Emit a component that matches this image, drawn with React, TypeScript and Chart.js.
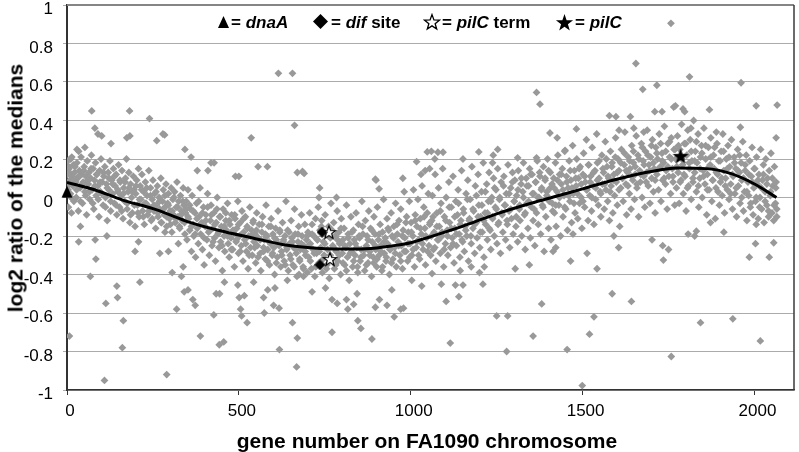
import React, { useEffect, useRef } from "react";
import { Chart, registerables } from "chart.js";

Chart.register(...registerables);

// ---------- DATA ----------
const xAxisMax = 2115;
const xTickValues = [0, 500, 1000, 1500, 2000];
const yTickStep = 0.2;

// trend line (polynomial fit)
const trendGenes = [0, 80, 160, 250, 300, 350, 440, 540, 630, 700, 800, 870, 950, 1000, 1055, 1150, 1250, 1350, 1420, 1500, 1600, 1700, 1775, 1860, 1930, 2000, 2064];
const trendValues = [0.078, 0.04, -0.012, -0.058, -0.09, -0.125, -0.17, -0.21, -0.245, -0.26, -0.268, -0.266, -0.25, -0.235, -0.205, -0.15, -0.085, -0.03, 0.005, 0.045, 0.095, 0.135, 0.153, 0.15, 0.125, 0.07, 0.0];

// special loci
const dnaAPoints: [number, number][] = [[0, 0.03]];
const difPoints: [number, number][] = [[742, -0.18], [736, -0.35]];
const pilCTermPoints: [number, number][] = [[762, -0.18], [765, -0.32]];
const pilCPoints: [number, number][] = [[1785, 0.215]];

// gene ratios, genes 0-350
const genes0to350: [number, number][] = [
  [72,0.45],[182,0.45],[240,0.41],[81,0.36],[90,0.33],[101,0.32],[174,0.31],[183,0.32],[261,0.295],[279,0.33],[284,0.325],[128,0.28],[343,0.25],[34,0.24],[52,0.26],[29,0.25],[14,0.21],[2,0.19],[5,0.16],
  [39,-0.15],[34,-0.23],[82,-0.22],[84,-0.32],[68,-0.41],[116,-0.2],[145,-0.46],[147,-0.52],[113,-0.55],[212,-0.44],[164,-0.64],[161,-0.78],[7,-0.72],[109,-0.95],[290,-0.92],[319,-0.58],[306,-0.39],[333,-0.41],[341,-0.49],[338,-0.36],[198,-0.28],[208,-0.23],[270,-0.29],[295,-0.28],[324,-0.24],[285,-0.18],
  [1,0.12],[3,0.04],[4,-0.05],[6,0.15],[8,0.09],[10,0.02],[11,0.2],[13,-0.08],[15,0.11],[17,0.06],[19,0.17],[20,-0.02],[22,0.13],[25,0.08],[27,0.0],[29,0.18],[31,0.1],[33,-0.07],[36,0.14],[38,0.05],[41,0.21],[43,0.12],[45,-0.03],[47,0.08],[50,0.16],[52,0.03],[55,0.11],[57,-0.09],[59,0.19],[62,0.07],[64,0.13],[66,-0.01],[69,0.1],[71,0.22],[73,0.04],[76,0.15],[78,-0.06],[80,0.09],[83,0.18],[85,0.01],[87,0.12],[90,0.06],[93,-0.1],[95,0.14],[97,0.03],[99,0.2],
  [102,0.08],[105,-0.04],[107,0.11],[110,0.16],[112,0.0],[115,0.07],[117,-0.12],[120,0.13],[122,0.04],[125,0.19],[127,-0.07],[130,0.09],[133,0.02],[135,0.15],[138,-0.03],[140,0.06],[143,0.12],[145,-0.09],[148,0.03],[150,0.17],[153,-0.05],[155,0.08],[158,0.01],[160,0.14],[163,-0.11],[165,0.05],[168,-0.02],[170,0.1],[173,0.2],[175,-0.06],[178,0.03],[180,0.13],[183,-0.13],[185,0.07],[188,0.0],[190,-0.08],[193,0.11],[195,0.04],[198,-0.15],
  [200,0.02],[203,0.09],[205,-0.04],[208,0.15],[210,-0.1],[213,0.06],[215,-0.01],[218,0.12],[220,-0.07],[223,0.03],[225,-0.14],[228,0.08],[230,-0.03],[233,0.01],[235,-0.09],[238,0.14],[240,-0.05],[243,0.05],[245,-0.12],[248,-0.01],[250,0.09],[253,-0.07],[255,0.02],[258,-0.16],[260,-0.04],[263,0.06],[265,-0.1],[268,0.0],[270,-0.06],[273,0.1],[275,-0.13],[278,-0.02],[280,0.04],[283,-0.09],[285,-0.05],[288,0.07],[290,-0.15],[293,-0.03],[295,0.02],[298,-0.11],
  [300,-0.07],[303,0.05],[305,-0.18],[308,-0.01],[310,-0.09],[313,0.03],[315,-0.13],[318,-0.05],[320,0.08],[323,-0.1],[325,-0.02],[328,-0.16],[330,0.01],[333,-0.07],[335,-0.12],[338,0.05],[340,-0.04],[343,-0.19],[345,-0.08]
];
const core0to350: [number, number][] = [
  [2,0.06],[7,0.13],[12,0.0],[18,0.09],[23,0.16],[28,0.04],[34,0.11],[39,-0.02],[44,0.07],[49,0.14],[54,0.01],[60,0.09],[65,0.03],[70,0.15],[75,-0.03],[81,0.06],[86,0.12],[91,-0.01],[96,0.08],[101,0.02],[106,0.13],[112,-0.05],[117,0.05],[122,0.1],[127,-0.02],[133,0.07],[138,0.11],[143,-0.04],[148,0.04],[154,0.09],[159,-0.07],[164,0.02],[169,0.08],[175,-0.03],[180,0.05],[185,-0.09],[190,0.03],[196,-0.04],
  [201,0.06],[206,-0.08],[211,-0.01],[217,0.04],[222,-0.1],[227,-0.03],[232,0.05],[238,-0.07],[243,0.01],[248,-0.11],[253,-0.04],[259,0.03],[264,-0.08],[269,-0.02],[274,-0.13],[280,-0.06],[285,0.01],[290,-0.1],[295,-0.04],[301,-0.14],[306,-0.07],[311,0.0],[316,-0.11],[322,-0.05],[327,-0.15],[332,-0.09],[337,-0.02],[342,-0.13],[347,-0.06]
];

// gene ratios, genes 350-700
const genes350to700: [number, number][] = [
  [361,0.21],[419,0.18],[410,0.14],[379,0.14],[428,0.18],[536,0.31],[556,0.16],[583,0.16],[615,0.645],[656,0.645],[662,0.375],[670,0.13],[685,0.135],[690,0.125],[500,0.11],[490,0.11],
  [352,-0.48],[366,-0.53],[373,-0.56],[388,-0.72],[427,-0.61],[434,-0.5],[444,-0.5],[443,-0.765],[456,-0.75],[458,-0.44],[497,-0.455],[501,-0.52],[516,-0.51],[505,-0.58],[508,-0.615],[524,-0.65],[543,-0.44],[572,-0.52],[574,-0.6],[584,-0.48],[601,-0.56],[617,-0.575],[605,-0.47],[618,-0.79],[641,-0.43],[656,-0.65],[670,-0.73],[668,-0.88],[675,-0.4],[688,-0.41],
  [347,-0.02],[349,-0.22],[352,0.04],[354,-0.11],[357,-0.17],[359,-0.06],[362,-0.28],[364,0.01],[367,-0.14],[369,-0.2],[372,-0.08],[374,-0.31],[377,-0.03],[379,-0.16],[382,-0.24],[384,-0.1],[387,0.05],[389,-0.19],[392,-0.13],[394,-0.27],[397,-0.05],[399,-0.35],
  [402,-0.15],[404,-0.09],[407,-0.22],[409,0.02],[412,-0.18],[414,-0.3],[417,-0.12],[419,-0.04],[422,-0.25],[424,-0.16],[427,-0.08],[429,-0.21],[432,-0.33],[434,-0.13],[437,0.0],[439,-0.19],[442,-0.26],[444,-0.1],[447,-0.23],[449,-0.15],[452,-0.38],[454,-0.06],[457,-0.2],[459,-0.28],[462,-0.12],[464,-0.17],[467,-0.03],[469,-0.24],[472,-0.31],[474,-0.14],[477,-0.21],[479,-0.09],[482,-0.27],[484,-0.18],[487,-0.36],[489,-0.11],[492,-0.23],[494,-0.16],[497,-0.02],[499,-0.29],
  [502,-0.2],[504,-0.13],[507,-0.25],[509,-0.07],[512,-0.33],[514,-0.18],[517,-0.22],[519,-0.1],[522,-0.28],[524,-0.15],[527,-0.37],[529,-0.2],[532,-0.05],[534,-0.26],[537,-0.17],[539,-0.3],[542,-0.12],[544,-0.23],[547,-0.19],[549,-0.34],[552,-0.08],[554,-0.25],[557,-0.21],[559,-0.14],[562,-0.29],[564,-0.38],[567,-0.18],[569,-0.1],[572,-0.26],[574,-0.22],[577,-0.32],[579,-0.04],[582,-0.2],[584,-0.27],[587,-0.15],[589,-0.35],[592,-0.24],[594,-0.11],[597,-0.3],[599,-0.19],
  [602,-0.26],[604,-0.4],[607,-0.16],[609,-0.22],[612,-0.31],[614,-0.07],[617,-0.25],[619,-0.18],[622,-0.36],[624,-0.28],[627,-0.13],[629,-0.23],[632,-0.33],[634,-0.2],[637,-0.02],[639,-0.27],[642,-0.17],[644,-0.38],[647,-0.24],[649,-0.3],[652,-0.12],[654,-0.21],[657,-0.35],[659,-0.26],[662,-0.06],[664,-0.19],[667,-0.29],[669,-0.41],[672,-0.23],[674,-0.15],[677,-0.32],[679,-0.27],[682,-0.09],[684,-0.2],[687,-0.36],[689,-0.25],[692,-0.14],[694,-0.3],[697,-0.22],[699,-0.39]
];
const core350to700: [number, number][] = [
  [352,-0.1],[357,-0.04],[362,-0.15],[367,-0.07],[373,-0.19],[378,-0.11],[383,-0.02],[388,-0.14],[394,-0.08],[399,-0.21],[404,-0.12],[409,-0.05],[415,-0.17],[420,-0.09],[425,-0.23],[430,-0.14],[436,-0.06],[441,-0.18],[446,-0.1],[451,-0.25],[457,-0.15],[462,-0.08],[467,-0.2],[472,-0.12],[478,-0.27],[483,-0.17],[488,-0.09],[493,-0.22],[499,-0.14],
  [504,-0.28],[509,-0.19],[514,-0.11],[520,-0.24],[525,-0.16],[530,-0.3],[535,-0.2],[541,-0.13],[546,-0.26],[551,-0.17],[556,-0.31],[562,-0.22],[567,-0.14],[572,-0.28],[577,-0.19],[583,-0.33],[588,-0.23],[593,-0.15],[598,-0.29],[604,-0.21],[609,-0.34],[614,-0.24],[619,-0.17],[625,-0.3],[630,-0.22],[635,-0.35],[640,-0.26],[646,-0.18],[651,-0.32],[656,-0.23],[661,-0.36],[667,-0.27],[672,-0.19],[677,-0.33],[682,-0.24],[688,-0.37],[693,-0.28],[698,-0.2]
];

// gene ratios, genes 700-1060
const genes700to1060: [number, number][] = [
  [1048,0.237],[1017,0.186],[1042,0.14],[897,0.095],[977,0.1],[735,0.05],[733,0.0],[784,0.0],[899,0.09],[908,0.045],[1030,0.12],[1055,0.15],
  [713,-0.49],[752,-0.47],[771,-0.53],[786,-0.55],[813,-0.53],[817,-0.58],[834,-0.555],[844,-0.5],[846,-0.64],[855,-0.68],[771,-0.7],[887,-0.735],[897,-0.57],[909,-0.53],[931,-0.56],[952,-0.62],[971,-0.58],[979,-0.575],[945,-0.48],[1003,-0.43],[1032,-0.46],
  [701,-0.18],[703,-0.31],[706,-0.08],[708,-0.24],[711,-0.37],[713,-0.14],[716,-0.27],[718,-0.2],[721,-0.41],[723,-0.11],[726,-0.29],[728,-0.22],[731,-0.05],[733,-0.34],[736,-0.17],[738,-0.26],[741,-0.12],[743,-0.39],[746,-0.23],[748,-0.3],[751,-0.09],[753,-0.19],[756,-0.35],[758,-0.27],[761,-0.15],[763,-0.42],[766,-0.21],[768,-0.03],[771,-0.32],[773,-0.25],[776,-0.13],[778,-0.37],[781,-0.2],[783,-0.28],[786,-0.07],[788,-0.33],[791,-0.18],[793,-0.24],[796,-0.4],[798,-0.11],
  [801,-0.29],[803,-0.22],[806,-0.16],[808,-0.35],[811,-0.26],[813,-0.04],[816,-0.31],[818,-0.19],[821,-0.43],[823,-0.24],[826,-0.1],[828,-0.28],[831,-0.36],[833,-0.17],[836,-0.22],[838,-0.3],[841,-0.08],[843,-0.26],[846,-0.39],[848,-0.14],[851,-0.21],[853,-0.33],[856,-0.27],[858,-0.02],[861,-0.19],[863,-0.3],[866,-0.38],[868,-0.12],[871,-0.25],[873,-0.2],[876,-0.34],[878,-0.07],[881,-0.28],[883,-0.16],[886,-0.41],[888,-0.23],[891,-0.31],[893,-0.1],[896,-0.19],[898,-0.27],
  [901,-0.36],[903,-0.05],[906,-0.22],[908,-0.3],[911,-0.14],[913,-0.25],[916,-0.38],[918,-0.18],[921,-0.01],[923,-0.29],[926,-0.21],[928,-0.33],[931,-0.11],[933,-0.24],[936,-0.17],[938,-0.4],[941,-0.27],[943,-0.08],[946,-0.2],[948,-0.32],[951,-0.15],[953,-0.26],[956,-0.03],[958,-0.36],[961,-0.19],[963,-0.23],[966,-0.12],[968,-0.3],[971,-0.06],[973,-0.25],[976,-0.37],[978,-0.17],[981,0.03],[983,-0.21],[986,-0.28],[988,-0.1],[991,-0.33],[993,-0.18],[996,-0.02],[998,-0.24],
  [1001,-0.13],[1003,-0.3],[1006,-0.2],[1008,0.04],[1011,-0.36],[1013,-0.09],[1016,-0.26],[1018,-0.15],[1021,-0.01],[1023,-0.22],[1026,-0.32],[1028,-0.11],[1031,-0.19],[1033,0.06],[1036,-0.27],[1038,-0.05],[1041,-0.16],[1043,-0.35],[1046,-0.21],[1048,-0.08],[1051,0.02],[1053,-0.25],[1056,-0.13],[1058,-0.3]
];
const core700to1060: [number, number][] = [
  [703,-0.25],[708,-0.33],[713,-0.19],[719,-0.29],[724,-0.36],[729,-0.22],[734,-0.28],[740,-0.15],[745,-0.32],[750,-0.24],[755,-0.37],[761,-0.2],[766,-0.3],[771,-0.17],[776,-0.26],[782,-0.35],[787,-0.22],[792,-0.3],[797,-0.16],[803,-0.34],[808,-0.25],[813,-0.38],[818,-0.21],[824,-0.29],[829,-0.18],[834,-0.33],[839,-0.24],[845,-0.36],[850,-0.2],[855,-0.31],[860,-0.15],[866,-0.27],[871,-0.35],[876,-0.22],[881,-0.3],[887,-0.17],[892,-0.34],[897,-0.25],
  [902,-0.32],[908,-0.19],[913,-0.28],[918,-0.36],[923,-0.23],[929,-0.31],[934,-0.16],[939,-0.27],[944,-0.34],[950,-0.21],[955,-0.29],[960,-0.14],[965,-0.25],[971,-0.33],[976,-0.2],[981,-0.28],[986,-0.13],[992,-0.24],[997,-0.31],[1002,-0.18],[1007,-0.27],[1013,-0.12],[1018,-0.23],[1023,-0.3],[1028,-0.16],[1034,-0.24],[1039,-0.1],[1044,-0.2],[1049,-0.28],[1055,-0.14]
];

// gene ratios, genes 1060-1415
const genes1060to1415: [number, number][] = [
  [1366,0.546],[1376,0.485],[1405,0.335],[1253,0.25],[1240,0.22],[1238,0.18],[1198,0.237],[1311,0.206],[1366,0.206],[1152,0.2],[1094,0.235],[1079,0.235],[1060,0.24],[1070,0.2],
  [1062,-0.395],[1089,-0.45],[1130,-0.455],[1152,-0.455],[1103,-0.54],[1140,-0.515],[1115,-0.756],[1144,-0.38],[1176,-0.36],[1200,-0.39],[1214,-0.36],[1210,-0.45],[1250,-0.615],[1282,-0.615],[1279,-0.8],[1304,-0.37],[1345,-0.35],[1356,-0.72],[1381,-0.553],
  [1061,-0.12],[1063,0.01],[1066,-0.27],[1068,-0.18],[1071,0.12],[1073,-0.33],[1076,-0.08],[1078,-0.22],[1081,0.05],[1083,-0.15],[1086,-0.29],[1088,-0.03],[1091,-0.2],[1093,0.15],[1096,-0.36],[1098,-0.1],
  [1101,-0.24],[1103,0.0],[1106,-0.17],[1108,-0.3],[1111,0.08],[1113,-0.13],[1116,-0.26],[1118,-0.05],[1121,-0.21],[1123,0.11],[1126,-0.34],[1128,-0.16],[1131,-0.02],[1133,-0.25],[1136,-0.09],[1138,0.04],[1141,-0.19],[1143,-0.31],[1146,-0.12],[1148,0.14],[1151,-0.23],[1153,-0.06],[1156,-0.28],[1158,-0.15],[1161,0.02],[1163,-0.2],[1166,0.09],[1168,-0.33],[1171,-0.11],[1173,-0.01],[1176,-0.24],[1178,0.16],[1181,-0.16],[1183,-0.07],[1186,-0.29],[1188,0.06],[1191,-0.13],[1193,-0.21],[1196,0.12],[1198,-0.04],
  [1201,-0.26],[1203,-0.1],[1206,0.03],[1208,-0.18],[1211,0.18],[1213,-0.31],[1216,-0.08],[1218,-0.14],[1221,0.07],[1223,-0.22],[1226,-0.02],[1228,0.13],[1231,-0.17],[1233,-0.27],[1236,0.0],[1238,-0.11],[1241,0.1],[1243,-0.2],[1246,-0.05],[1248,0.04],[1251,-0.24],[1253,0.15],[1256,-0.13],[1258,-0.01],[1261,-0.29],[1263,0.08],[1266,-0.09],[1268,-0.18],[1271,0.11],[1273,-0.04],[1276,-0.22],[1278,0.02],[1281,-0.14],[1283,0.17],[1286,-0.07],[1288,-0.26],[1291,0.05],[1293,-0.11],[1296,0.13],[1298,-0.19],
  [1301,-0.02],[1303,0.09],[1306,-0.15],[1308,0.01],[1311,-0.23],[1313,0.14],[1316,-0.06],[1318,-0.12],[1321,0.07],[1323,-0.2],[1326,0.03],[1328,0.18],[1331,-0.09],[1333,-0.27],[1336,0.1],[1338,-0.03],[1341,-0.16],[1343,0.06],[1346,0.15],[1348,-0.21],[1351,-0.05],[1353,0.12],[1356,-0.12],[1358,0.02],[1361,-0.25],[1363,0.08],[1366,-0.08],[1368,0.19],[1371,-0.14],[1373,0.0],[1376,0.11],[1378,-0.19],[1381,0.05],[1383,-0.04],[1386,0.16],[1388,-0.28],[1391,0.09],[1393,-0.1],[1396,0.03],[1398,0.2],
  [1401,-0.16],[1403,-0.02],[1406,0.13],[1408,-0.22],[1411,0.07],[1413,-0.07]
];
const core1060to1415: [number, number][] = [
  [1060,-0.2],[1065,-0.1],[1070,-0.26],[1076,-0.15],[1081,-0.22],[1086,-0.07],[1091,-0.18],[1097,-0.27],[1102,-0.12],[1107,-0.2],[1112,-0.05],[1118,-0.16],[1123,-0.24],[1128,-0.1],[1133,-0.19],[1139,-0.03],[1144,-0.14],[1149,-0.22],[1154,-0.08],[1160,-0.17],[1165,-0.01],[1170,-0.12],[1175,-0.2],[1181,-0.06],[1186,-0.14],[1191,0.01],[1196,-0.1],
  [1202,-0.18],[1207,-0.04],[1212,-0.12],[1217,0.03],[1223,-0.08],[1228,-0.16],[1233,-0.02],[1238,-0.1],[1244,0.05],[1249,-0.06],[1254,-0.14],[1259,0.0],[1265,-0.08],[1270,0.06],[1275,-0.04],[1280,-0.12],[1286,0.02],[1291,-0.06],[1296,0.08],
  [1301,-0.02],[1307,-0.1],[1312,0.04],[1317,-0.04],[1322,0.1],[1328,0.0],[1333,-0.08],[1338,0.06],[1343,-0.02],[1349,0.12],[1354,0.02],[1359,-0.06],[1364,0.08],[1370,0.0],[1375,0.13],[1380,0.04],[1385,-0.05],[1391,0.1],[1396,0.01],[1401,0.14],[1406,0.05],[1412,-0.03]
];

// gene ratios, genes 1415-1770
const genes1415to1770: [number, number][] = [
  [1757,0.905],[1655,0.696],[1675,0.562],[1716,0.583],[1710,0.446],[1731,0.446],[1578,0.425],[1597,0.42],[1639,0.42],[1482,0.356],[1426,0.31],[1449,0.245],[1649,0.36],[1678,0.34],[1606,0.35],[1765,0.47],
  [1414,-0.28],[1422,-0.26],[1465,-0.33],[1513,-0.29],[1542,-0.37],[1472,-0.19],[1591,-0.2],[1605,-0.26],[1586,-0.5],[1642,-0.54],[1533,-0.62],[1520,-0.71],[1455,-0.79],[1499,-0.977],[1702,-0.22],[1733,-0.25],[1750,-0.27],[1735,-0.325],[1758,-0.826],
  [1416,0.1],[1418,-0.08],[1421,0.18],[1423,-0.15],[1426,0.03],[1428,0.22],[1431,-0.04],[1433,0.12],[1436,-0.2],[1438,0.07],[1441,0.15],[1443,-0.1],[1446,0.01],[1448,0.24],[1451,-0.06],[1453,0.11],[1456,-0.17],[1458,0.05],[1461,0.19],[1463,-0.02],[1466,0.09],[1468,-0.13],[1471,0.27],[1473,0.02],[1476,0.14],[1478,-0.08],[1481,0.06],[1483,0.2],[1486,-0.11],[1488,0.1],[1491,-0.03],[1493,0.16],[1496,0.0],[1498,-0.16],
  [1501,0.12],[1503,0.23],[1506,-0.05],[1508,0.08],[1511,0.3],[1513,0.04],[1516,-0.12],[1518,0.17],[1521,0.01],[1523,0.11],[1526,-0.07],[1528,0.26],[1531,0.06],[1533,-0.14],[1536,0.14],[1538,-0.01],[1541,0.33],[1543,0.09],[1546,-0.04],[1548,0.19],[1551,0.03],[1553,-0.1],[1556,0.22],[1558,0.07],[1561,0.13],[1563,-0.06],[1566,0.29],[1568,0.04],[1571,0.16],[1573,-0.02],[1576,0.1],[1578,-0.12],[1581,0.24],[1583,0.06],[1586,0.18],[1588,-0.08],[1591,0.12],[1593,0.01],[1596,0.31],[1598,0.08],
  [1601,-0.04],[1603,0.2],[1606,0.14],[1608,-0.15],[1611,0.05],[1613,0.25],[1616,0.1],[1618,-0.02],[1621,0.17],[1623,0.34],[1626,0.07],[1628,-0.09],[1631,0.13],[1633,0.21],[1636,0.02],[1638,0.15],[1641,-0.06],[1643,0.27],[1646,0.09],[1648,0.18],[1651,-0.01],[1653,0.12],[1656,0.32],[1658,0.05],[1661,0.22],[1663,-0.1],[1666,0.14],[1668,0.08],[1671,0.28],[1673,0.0],[1676,0.19],[1678,0.11],[1681,-0.05],[1683,0.24],[1686,0.13],[1688,0.35],[1691,0.06],[1693,0.17],[1696,-0.03],[1698,0.21],
  [1701,0.1],[1703,0.3],[1706,0.03],[1708,0.15],[1711,-0.08],[1713,0.26],[1716,0.12],[1718,0.2],[1721,0.04],[1723,0.33],[1726,0.16],[1728,-0.02],[1731,0.23],[1733,0.09],[1736,0.18],[1738,0.37],[1741,0.07],[1743,0.14],[1746,-0.06],[1748,0.28],[1751,0.11],[1753,0.21],[1756,0.02],[1758,0.31],[1761,0.15],[1763,0.08],[1766,0.25],[1768,-0.04]
];
const core1415to1770: [number, number][] = [
  [1417,0.05],[1422,-0.04],[1427,0.09],[1433,0.0],[1438,0.12],[1443,0.04],[1448,-0.05],[1454,0.08],[1459,0.01],[1464,0.14],[1469,0.05],[1475,-0.03],[1480,0.1],[1485,0.02],[1490,0.15],[1496,0.07],
  [1501,-0.02],[1506,0.11],[1511,0.04],[1517,0.17],[1522,0.08],[1527,0.0],[1532,0.13],[1538,0.05],[1543,0.18],[1548,0.1],[1553,0.02],[1559,0.15],[1564,0.07],[1569,0.2],[1574,0.11],[1580,0.03],[1585,0.16],[1590,0.09],[1595,0.21],
  [1601,0.13],[1606,0.04],[1611,0.18],[1616,0.1],[1622,0.23],[1627,0.14],[1632,0.06],[1637,0.19],[1643,0.11],[1648,0.24],[1653,0.16],[1658,0.07],[1664,0.2],[1669,0.12],[1674,0.26],[1679,0.17],[1685,0.08],[1690,0.22],[1695,0.14],
  [1700,0.27],[1706,0.18],[1711,0.09],[1716,0.23],[1721,0.15],[1727,0.28],[1732,0.19],[1737,0.1],[1742,0.24],[1748,0.16],[1753,0.29],[1758,0.2],[1763,0.11],[1769,0.25]
];

// gene ratios, genes 1770-2066
const genes1770to2066: [number, number][] = [
  [1811,0.627],[1961,0.596],[2005,0.476],[2066,0.48],[1869,0.456],[1770,0.476],[1792,0.46],[1797,0.446],[1959,0.365],[1889,0.34],[2063,0.31],[1815,0.36],
  [1807,-0.19],[1826,-0.2],[1831,-0.175],[1911,-0.18],[1872,-0.13],[2005,-0.14],[2003,-0.24],[2056,-0.235],[1985,-0.31],[2043,-0.31],[1843,-0.65],[1937,-0.63],[2017,-0.745],
  [1771,0.2],[1773,0.05],[1776,0.32],[1778,0.13],[1781,-0.03],[1783,0.25],[1786,0.09],[1788,0.38],[1791,0.17],[1793,0.02],[1796,0.28],[1798,0.11],
  [1801,-0.07],[1803,0.22],[1806,0.35],[1808,0.06],[1811,0.15],[1813,0.3],[1816,-0.01],[1818,0.19],[1821,0.08],[1823,0.4],[1826,0.13],[1828,0.24],[1831,0.03],[1833,0.18],[1836,0.33],[1838,-0.05],[1841,0.1],[1843,0.21],[1846,0.27],[1848,0.0],[1851,0.14],[1853,0.36],[1856,0.07],[1858,0.2],[1861,-0.09],[1863,0.12],[1866,0.26],[1868,0.04],[1871,0.17],[1873,0.31],[1876,-0.02],[1878,0.09],[1881,0.22],[1883,0.15],[1886,-0.11],[1888,0.05],[1891,0.28],[1893,0.12],[1896,0.19],[1898,-0.04],
  [1901,0.08],[1903,0.24],[1906,0.01],[1908,0.33],[1911,0.14],[1913,-0.08],[1916,0.1],[1918,0.2],[1921,0.04],[1923,0.27],[1926,-0.01],[1928,0.16],[1931,0.07],[1933,0.3],[1936,-0.06],[1938,0.11],[1941,0.21],[1943,0.02],[1946,0.15],[1948,-0.1],[1951,0.25],[1953,0.06],[1956,0.13],[1958,-0.03],[1961,0.18],[1963,0.09],[1966,0.29],[1968,-0.07],[1971,0.03],[1973,0.14],[1976,0.22],[1978,-0.12],[1981,0.08],[1983,0.01],[1986,0.19],[1988,-0.05],[1991,0.11],[1993,0.26],[1996,-0.09],[1998,0.05],
  [2001,0.15],[2003,-0.02],[2006,0.21],[2008,0.07],[2011,-0.11],[2013,0.12],[2016,0.0],[2018,0.25],[2021,-0.06],[2023,0.09],[2026,0.17],[2028,-0.13],[2031,0.03],[2033,0.2],[2036,-0.04],[2038,0.1],[2041,-0.1],[2043,0.14],[2046,0.01],[2048,0.23],[2051,-0.08],[2053,0.06],[2056,-0.12],[2058,0.16],[2061,-0.03],[2063,0.08],[2065,-0.1]
];
const core1770to2066: [number, number][] = [
  [1774,0.16],[1779,0.27],[1784,0.08],[1789,0.2],[1795,0.12],[1800,0.28],[1805,0.05],[1810,0.18],[1816,0.24],[1821,0.1],[1826,0.19],[1831,0.29],[1837,0.06],[1842,0.15],[1847,0.23],[1852,0.11],[1858,0.27],[1863,0.04],[1868,0.16],[1873,0.21],[1879,0.09],[1884,0.26],[1889,0.13],[1894,0.03],
  [1900,0.19],[1905,0.1],[1910,0.24],[1915,0.06],[1921,0.15],[1926,0.21],[1931,0.02],[1936,0.12],[1942,0.18],[1947,0.05],[1952,0.14],[1957,0.22],[1963,0.0],[1968,0.1],[1973,0.17],[1978,0.03],[1984,0.12],[1989,-0.03],[1994,0.08],[1999,0.15],
  [2005,0.0],[2010,0.09],[2015,-0.05],[2020,0.05],[2026,0.12],[2031,-0.02],[2036,0.07],[2041,-0.07],[2047,0.03],[2052,0.1],[2057,-0.04],[2062,0.05],[2065,-0.06]
];

const xTitle = "gene number on FA1090 chromosome";
const yTitle = "log2 ratio of the medians";

// ---------- helpers ----------
const FONT = "'Liberation Sans', Arial, Helvetica, sans-serif";

function starPath(cx: number, cy: number, R: number, r: number): [number, number][] {
  const pts: [number, number][] = [];
  for (let i = 0; i < 10; i++) {
    const a = -Math.PI / 2 + (i * Math.PI) / 5;
    const rad = i % 2 === 0 ? R : r;
    pts.push([cx + rad * Math.cos(a), cy + rad * Math.sin(a)]);
  }
  return pts;
}

function makeMarker(w: number, h: number, pts: [number, number][], fill: string, stroke?: string, lw = 1) {
  const c = document.createElement("canvas");
  c.width = w;
  c.height = h;
  const ctx = c.getContext("2d")!;
  ctx.beginPath();
  pts.forEach(([x, y], i) => (i === 0 ? ctx.moveTo(x, y) : ctx.lineTo(x, y)));
  ctx.closePath();
  ctx.fillStyle = fill;
  ctx.fill();
  if (stroke) {
    ctx.strokeStyle = stroke;
    ctx.lineWidth = lw;
    ctx.lineJoin = "miter";
    ctx.stroke();
  }
  return c;
}

const toXY = (arr: [number, number][]) => arr.map(([x, y]) => ({ x, y }));

const svgStar = (size: number, R: number, r: number) =>
  starPath(size / 2, size / 2 + 0.6, R, r)
    .map(([x, y]) => `${x.toFixed(2)},${y.toFixed(2)}`)
    .join(" ");

export default function App() {
  const ref = useRef<HTMLCanvasElement | null>(null);

  useEffect(() => {
    if (!ref.current) return;
    Chart.defaults.font.family = FONT;

    const triMarker = makeMarker(12, 13, [[6, 0.5], [11.5, 12.5], [0.5, 12.5]], "#000");
    const diaMarker = makeMarker(11, 11, [[5.5, 0], [11, 5.5], [5.5, 11], [0, 5.5]], "#000");
    const openStar = makeMarker(16, 16, starPath(8, 8.6, 7, 2.9), "#fff", "#000", 1.2);
    const fullStar = makeMarker(18, 18, starPath(9, 9.6, 8.4, 3.4), "#000");

    const allGenes = [
      ...genes0to350, ...core0to350,
      ...genes350to700, ...core350to700,
      ...genes700to1060, ...core700to1060,
      ...genes1060to1415, ...core1060to1415,
      ...genes1415to1770, ...core1415to1770,
      ...genes1770to2066, ...core1770to2066,
    ];

    const framePlugin = {
      id: "frame",
      beforeDatasetsDraw(chart: any) {
        const { ctx, chartArea: a } = chart;
        ctx.save();
        ctx.strokeStyle = "#858585";
        ctx.lineWidth = 2;
        ctx.beginPath();
        ctx.moveTo(a.left, a.top);
        ctx.lineTo(a.right, a.top);
        ctx.stroke();
        ctx.strokeStyle = "#3a3a3a";
        ctx.lineWidth = 1.5;
        ctx.beginPath();
        ctx.moveTo(a.right, a.top);
        ctx.lineTo(a.right, a.bottom);
        ctx.stroke();
        ctx.restore();
      },
    };

    const chart = new Chart(ref.current, {
      type: "scatter",
      data: {
        datasets: [
          { label: "dnaA", data: toXY(dnaAPoints), pointStyle: triMarker as any, clip: false as any },
          { label: "dif", data: toXY(difPoints), pointStyle: diaMarker as any },
          { label: "pilC term", data: toXY(pilCTermPoints), pointStyle: openStar as any },
          { label: "pilC", data: toXY(pilCPoints), pointStyle: fullStar as any },
          {
            label: "trend",
            data: trendGenes.map((g, i) => ({ x: g, y: trendValues[i] })),
            showLine: true,
            borderColor: "#000",
            borderWidth: 3,
            pointRadius: 0,
            cubicInterpolationMode: "monotone",
            fill: false,
          } as any,
          {
            label: "genes",
            data: toXY(allGenes),
            pointStyle: "rectRot",
            pointRadius: 3.9,
            pointBorderWidth: 0,
            backgroundColor: "#999999",
            borderColor: "#999999",
          },
        ],
      },
      options: {
        animation: false,
        responsive: false,
        events: [],
        layout: { padding: { top: 2, right: 2, left: 0, bottom: 0 } },
        plugins: { legend: { display: false }, tooltip: { enabled: false } },
        scales: {
          x: {
            type: "linear",
            min: 0,
            max: xAxisMax,
            afterBuildTicks: (s: any) => {
              s.ticks = xTickValues.map((v) => ({ value: v }));
            },
            afterFit: (s: any) => {
              s.height = 62;
              s.paddingLeft = 0;
              s.paddingRight = 0;
            },
            ticks: {
              color: "#000",
              font: { size: 17, family: FONT },
              padding: 6,
              labelOffset: 3,
              maxRotation: 0,
              autoSkip: false,
              callback: (v: any) => String(v),
            },
            grid: { drawOnChartArea: false, drawTicks: true, tickLength: 5, color: "#333" },
            border: { display: true, color: "#333", width: 1.5 },
          },
          y: {
            type: "linear",
            min: -1,
            max: 1,
            afterFit: (s: any) => {
              s.width = 67;
              s.paddingTop = 0;
              s.paddingBottom = 0;
            },
            ticks: {
              stepSize: yTickStep,
              color: "#000",
              font: { size: 17, family: FONT },
              padding: 10,
              labelOffset: 4.5,
              callback: (v: any) => {
                const n = Math.round(Number(v) * 10) / 10;
                return n === 0 ? "0" : String(n);
              },
            },
            grid: { color: "#ababab", lineWidth: 1, drawTicks: true, tickLength: 4 },
            border: { display: true, color: "#333", width: 2 },
          },
        },
      },
      plugins: [framePlugin],
    } as any);

    return () => chart.destroy();
  }, []);

  const legendText: React.CSSProperties = {
    position: "absolute",
    top: 14,
    font: `bold 17px ${FONT}`,
    lineHeight: "17px",
    whiteSpace: "nowrap",
    color: "#000",
  };

  return (
    <div style={{ position: "fixed", left: 0, top: 0, width: 799, height: 452, background: "#fff" }}>
      <canvas ref={ref} width={799} height={452} style={{ position: "absolute", left: 0, top: 0 }} />
      {/* legend */}
      <svg style={{ position: "absolute", left: 218, top: 16 }} width={11} height={12}>
        <polygon points="5.5,0 11,12 0,12" fill="#000" />
      </svg>
      <div style={{ ...legendText, left: 231 }}>
        = <i>dnaA</i>
      </div>
      <svg style={{ position: "absolute", left: 313, top: 14 }} width={15} height={15}>
        <polygon points="7.5,0 15,7.5 7.5,15 0,7.5" fill="#000" />
      </svg>
      <div style={{ ...legendText, left: 331 }}>
        = <i>dif</i> site
      </div>
      <svg style={{ position: "absolute", left: 423, top: 13 }} width={18} height={18}>
        <polygon points={svgStar(18, 8, 3.3)} fill="#fff" stroke="#000" strokeWidth={1.3} />
      </svg>
      <div style={{ ...legendText, left: 442 }}>
        = <i>pilC</i> term
      </div>
      <svg style={{ position: "absolute", left: 555, top: 13 }} width={19} height={19}>
        <polygon points={svgStar(19, 9, 3.6)} fill="#000" />
      </svg>
      <div style={{ ...legendText, left: 575 }}>
        = <i>pilC</i>
      </div>
      {/* axis titles */}
      <div
        style={{
          position: "absolute",
          left: 427,
          top: 430,
          transform: "translateX(-50%)",
          font: `bold 21px ${FONT}`,
          lineHeight: "21px",
          whiteSpace: "nowrap",
          color: "#000",
        }}
      >
        {xTitle}
      </div>
      <div
        style={{
          position: "absolute",
          left: 14.7,
          top: 187.5,
          transform: "translate(-50%, -50%) rotate(-90deg)",
          font: `bold 21px ${FONT}`,
          lineHeight: "21px",
          whiteSpace: "nowrap",
          color: "#000",
        }}
      >
        {yTitle}
      </div>
    </div>
  );
}
